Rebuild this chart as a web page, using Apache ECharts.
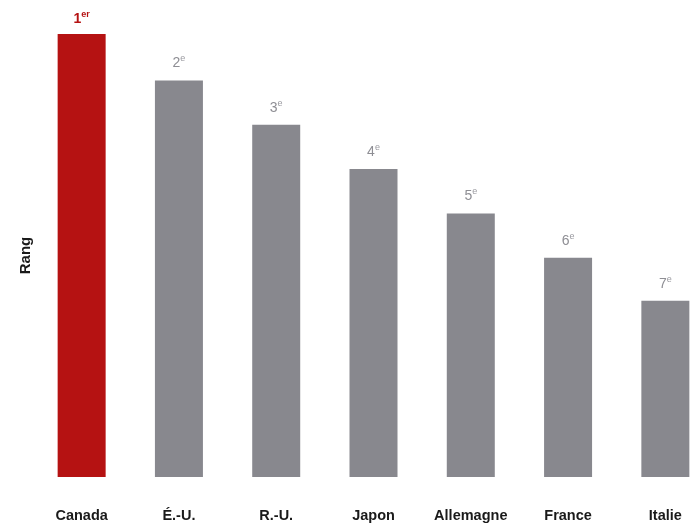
<!DOCTYPE html>
<html><head><meta charset="utf-8">
<script src="https://cdn.jsdelivr.net/npm/echarts@6/dist/echarts.min.js"></script>
<style>html,body{margin:0;padding:0;background:#fff;overflow:hidden;width:693px;height:527px}#c{width:714px;height:527px}</style>
</head><body><div id="c"></div>
<script>
var categories = ['Canada', 'É.-U.', 'R.-U.', 'Japon', 'Allemagne', 'France', 'Italie'];
var rankNumbers = ['1', '2', '3', '4', '5', '6', '7'];
var rankSuffixes = ['er', 'e', 'e', 'e', 'e', 'e', 'e'];
var barValues = [10, 8.95, 7.95, 6.95, 5.95, 4.95, 3.98];

var RED = '#b51212', GRAY = '#88888e';
var chart = echarts.init(document.getElementById('c'));
chart.setOption({
  animation: false,
  backgroundColor: '#fff',
  grid: { left: 33, right: 0, top: 34, bottom: 50, containLabel: false },
  xAxis: {
    type: 'category', data: categories,
    axisLine: { show: false }, axisTick: { show: false },
    axisLabel: { margin: 31, fontFamily: 'Liberation Sans, Arial', fontWeight: 'bold', fontSize: 14.5, color: '#1a1a1a', interval: 0 }
  },
  yAxis: {
    type: 'value', min: 0, max: 10,
    name: 'Rang', nameLocation: 'middle', nameGap: 0, nameRotate: 90,
    nameTextStyle: { fontFamily: 'Liberation Sans, Arial', fontWeight: 'bold', fontSize: 15, color: '#1a1a1a' },
    axisLine: { show: false }, axisTick: { show: false }, axisLabel: { show: false }, splitLine: { show: false }
  },
  series: [{
    type: 'bar', barWidth: 48,
    data: barValues.map(function (v, i) {
      var c = i === 0 ? RED : GRAY;
      return {
        value: v,
        itemStyle: { color: c },
        label: {
          show: true, position: 'top', distance: i === 0 ? 8 : 10,
          formatter: '{n|' + rankNumbers[i] + '}{s|' + rankSuffixes[i] + '}',
          rich: {
            n: { fontFamily: 'Liberation Sans, Arial', fontWeight: i === 0 ? 'bold' : 'normal', fontSize: 14, color: i === 0 ? c : '#8e8e94', lineHeight: 16, verticalAlign: 'bottom' },
            s: { fontFamily: 'Liberation Sans, Arial', fontWeight: i === 0 ? 'bold' : 'normal', fontSize: 9, color: i === 0 ? c : '#9a9aa0', lineHeight: 16, verticalAlign: 'top', padding: [0, 0, 6, 0] }
          }
        }
      };
    })
  }]
});
</script></body></html>
